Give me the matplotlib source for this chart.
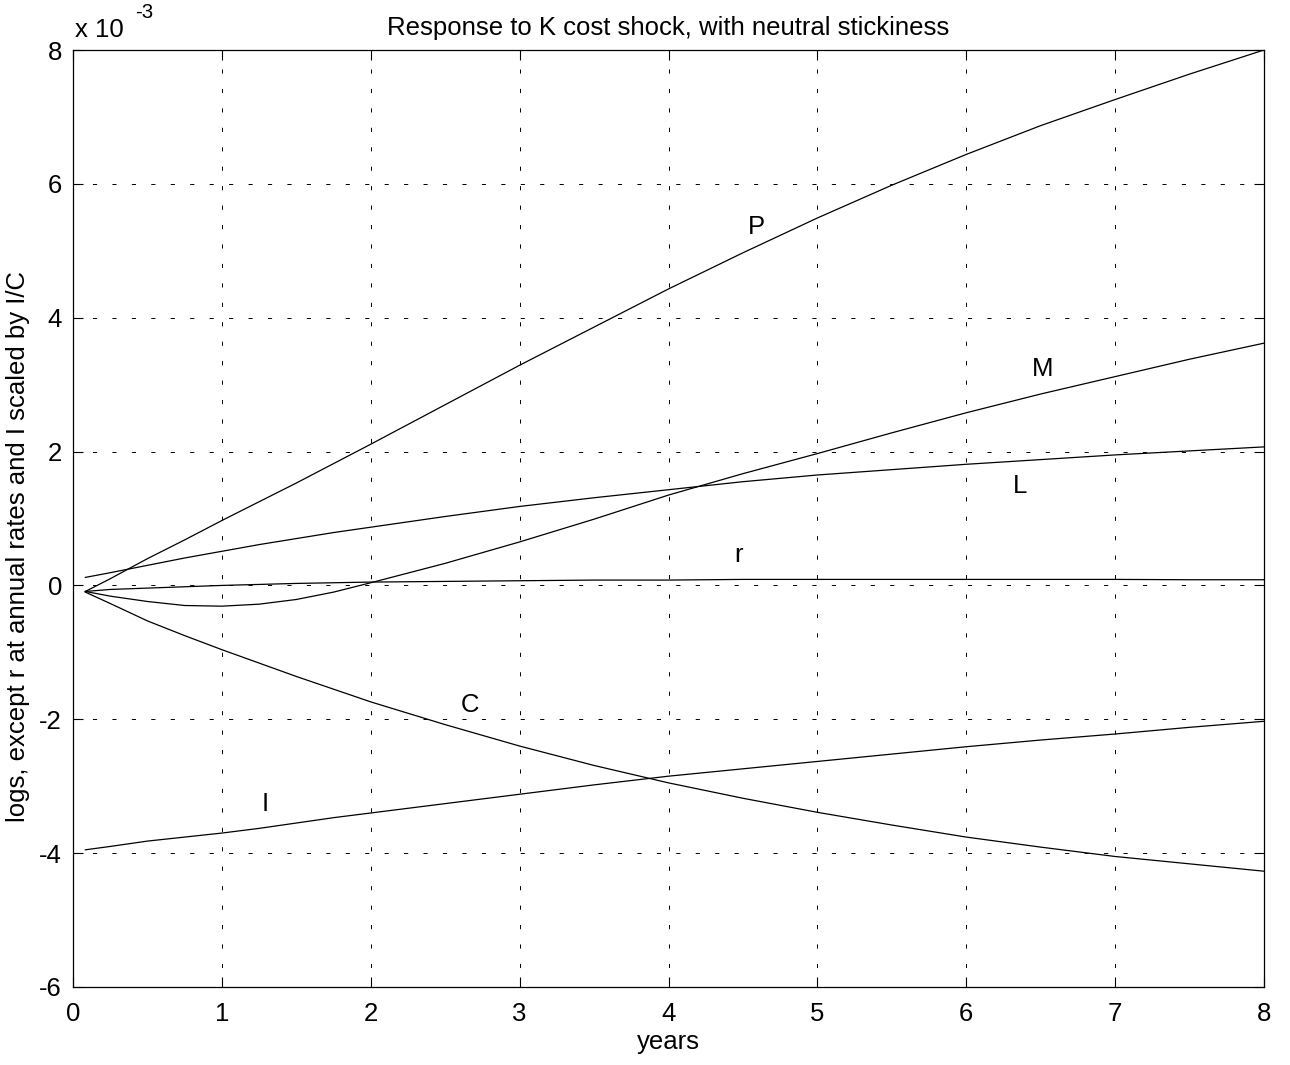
import matplotlib
matplotlib.use("Agg")
import matplotlib.pyplot as plt

plt.rcParams['font.family'] = ['Liberation Sans', 'DejaVu Sans']
plt.rcParams['lines.scale_dashes'] = False

# time in years
t = [0.083, 0.25, 0.5, 0.75, 1, 1.25, 1.5, 1.75, 2, 2.5, 3, 3.5, 4, 4.5, 5, 5.5, 6, 6.5, 7, 7.5, 8]

# responses (x 1e-3)
P = [-0.09, 0.10, 0.40, 0.68, 0.97, 1.25, 1.53, 1.82, 2.11, 2.70, 3.29, 3.86, 4.43, 4.97, 5.49, 5.98, 6.44, 6.87, 7.26, 7.64, 8.00]
M = [-0.09, -0.16, -0.24, -0.30, -0.31, -0.28, -0.21, -0.10, 0.04, 0.33, 0.65, 0.99, 1.35, 1.67, 1.97, 2.28, 2.58, 2.86, 3.12, 3.38, 3.62]
L = [0.12, 0.19, 0.30, 0.41, 0.51, 0.61, 0.70, 0.79, 0.87, 1.03, 1.18, 1.31, 1.43, 1.55, 1.65, 1.73, 1.81, 1.88, 1.95, 2.01, 2.07]
r = [-0.09, -0.06, -0.04, -0.02, 0.00, 0.015, 0.03, 0.04, 0.05, 0.06, 0.07, 0.08, 0.08, 0.09, 0.09, 0.09, 0.09, 0.09, 0.09, 0.085, 0.085]
C = [-0.10, -0.27, -0.53, -0.75, -0.96, -1.16, -1.36, -1.55, -1.74, -2.08, -2.40, -2.69, -2.95, -3.18, -3.39, -3.58, -3.76, -3.91, -4.05, -4.16, -4.27]
I = [-3.95, -3.90, -3.82, -3.76, -3.70, -3.63, -3.55, -3.47, -3.40, -3.26, -3.12, -2.98, -2.85, -2.74, -2.63, -2.52, -2.41, -2.31, -2.22, -2.12, -2.03]

series = [P, M, L, r, C, I]
labels = ["P", "M", "L", "r", "C", "I"]
label_x = [4.59, 6.51, 6.36, 4.47, 2.67, 1.29]
label_y = [5.35, 3.23, 1.49, 0.45, -1.79, -3.27]

xticks = [0, 1, 2, 3, 4, 5, 6, 7, 8]
yticks = [-6, -4, -2, 0, 2, 4, 6, 8]

FS = 18.5

fig = plt.figure(figsize=(12.9, 10.65), dpi=100)
ax = fig.add_axes([73/1290, 1 - 987/1065, (1264-73)/1290, (987-50)/1065])

for s in series:
    ax.plot(t, [v * 1e-3 for v in s], color='black', linewidth=0.9)

for lab, lx, ly in zip(labels, label_x, label_y):
    ax.text(lx, ly * 1e-3, lab, fontsize=FS, ha='center', va='center')

ax.set_xlim(0, 8)
ax.set_ylim(-6e-3, 8e-3)
ax.set_xticks(xticks)
ax.set_yticks([v * 1e-3 for v in yticks])
ax.set_xticklabels([str(v) for v in xticks])
ax.set_yticklabels([str(v) for v in yticks])
ax.tick_params(direction='in', length=7, width=0.8, top=True, right=True,
               labelsize=FS, pad=8)
ax.tick_params(axis='x', pad=11)
ax.grid(True, color='black', linewidth=0.7, linestyle=(0, (3, 11)))
for sp in ax.spines.values():
    sp.set_linewidth(0.9)

ax.set_title("Response to K cost shock, with neutral stickiness", fontsize=FS, pad=11)
ax.set_xlabel("years", fontsize=FS, labelpad=3)
ax.set_ylabel("logs, except r at annual rates and I scaled by I/C", fontsize=FS)
ax.yaxis.set_label_coords(-0.036, 0.47)
fig.text(75/1290, 1 - 30/1065, "x 10", fontsize=FS, ha='left', va='center')
fig.text(135/1290, 1 - 13/1065, "-3", fontsize=FS * 0.8, ha='left', va='center')

fig.savefig("out.png", dpi=100)
